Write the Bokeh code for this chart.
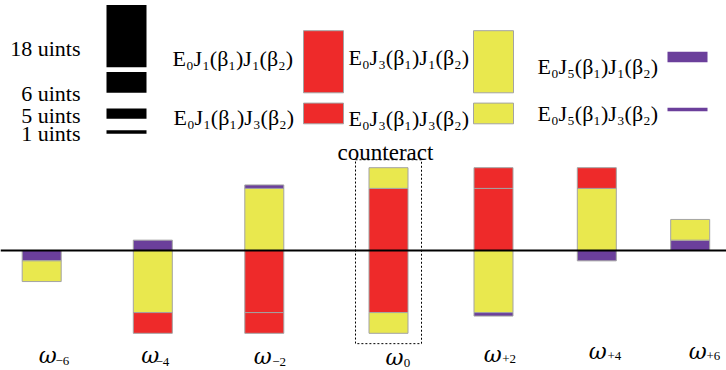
from bokeh.plotting import figure
from bokeh.models import Range1d, Span, ColumnDataSource
from bokeh.core.properties import value
from bokeh.embed import file_html
from bokeh.resources import INLINE

# ---------------- data ----------------
harmonics = ["\u22126", "\u22124", "\u22122", "0", "+2", "+4", "+6"]
components = ["J1J1", "J1J3", "J3J1", "J3J3", "J5J1", "J5J3"]
component_units = [18, 6, 18, 6, 3, 1]
component_labels = [
    "E\u2080J\u2081(\u03b2\u2081)J\u2081(\u03b2\u2082)",
    "E\u2080J\u2081(\u03b2\u2081)J\u2083(\u03b2\u2082)",
    "E\u2080J\u2083(\u03b2\u2081)J\u2081(\u03b2\u2082)",
    "E\u2080J\u2083(\u03b2\u2081)J\u2083(\u03b2\u2082)",
    "E\u2080J\u2085(\u03b2\u2081)J\u2081(\u03b2\u2082)",
    "E\u2080J\u2085(\u03b2\u2081)J\u2083(\u03b2\u2082)",
]
# contributions stacked from the zero line outward, per harmonic
stack_up = [[], ["J5J1"], ["J3J1", "J5J3"], ["J1J1", "J3J3"],
            ["J1J1", "J1J3"], ["J3J1", "J1J3"], ["J5J1", "J3J3"]]
stack_down = [["J5J1", "J3J3"], ["J3J1", "J1J3"], ["J1J1", "J1J3"],
              ["J1J1", "J3J3"], ["J3J1", "J5J3"], ["J5J1"], []]
scale_labels = ["18 uints", "6 uints", "5 uints", "1 uints"]
scale_key_units = [18, 6, 3, 1]
counteract_label = "counteract"
counteract_index = 3

# ---------------- styles / layout ----------------
RED, YELLOW, PURPLE = "#EE2A2A", "#E9E84E", "#6B3F9B"
OUTLINE = "#A3A3A3"
comp_color = {"J1J1": RED, "J1J3": RED, "J3J1": YELLOW, "J3J3": YELLOW,
              "J5J1": PURPLE, "J5J3": PURPLE}
W, H = 726, 370
S = 3.45          # pixels per unit
BASE = 250        # page y of the zero line


def uy(page_y):
    return (BASE - page_y) / S


bar_x = [41.2, 152.3, 263.8, 388.0, 493.0, 596.3, 689.7]
BAR_W = 39

p = figure(width=W, height=H, output_backend="svg", toolbar_location=None,
           x_range=Range1d(0, W), y_range=Range1d(uy(H), uy(0)),
           x_axis_location=None, y_axis_location=None, min_border=0,
           outline_line_color=None, background_fill_color="white")
p.grid.visible = False

# ---------------- stacked bars ----------------
bx, bb, bt, bc = [], [], [], []
for i in range(len(harmonics)):
    acc = 0
    for c in stack_up[i]:
        u = component_units[components.index(c)]
        bx.append(bar_x[i]); bb.append(acc); bt.append(acc + u); bc.append(comp_color[c])
        acc += u
    acc = 0
    for c in stack_down[i]:
        u = component_units[components.index(c)]
        bx.append(bar_x[i]); bb.append(acc - u); bt.append(acc); bc.append(comp_color[c])
        acc -= u
p.vbar(x="x", width=BAR_W, bottom="b", top="t", fill_color="c",
       line_color=OUTLINE, line_width=1,
       source=ColumnDataSource(dict(x=bx, b=bb, t=bt, c=bc)))

p.add_layout(Span(location=0, dimension="width", line_color="black", line_width=2))

# dashed "counteract" box around the omega_0 bar
ci = counteract_index
up_tot = sum(component_units[components.index(c)] for c in stack_up[ci])
dn_tot = sum(component_units[components.index(c)] for c in stack_down[ci])
p.quad(left=[bar_x[ci] - 33], right=[bar_x[ci] + 33], bottom=[-dn_tot - 3.0],
       top=[up_tot + 2.3], fill_color=None, line_color="black", line_width=1,
       line_dash="2 2")
p.text(x=[385], y=[uy(151.7)], text=[counteract_label], text_font=value("Liberation Serif"),
       text_font_size="23px", text_align="center", text_baseline="alphabetic",
       text_color="black")

# ---------------- omega labels ----------------
omega_x = [38.3, 140.7, 253.3, 385.0, 483.3, 588.3, 688.3]
omega_base = [355, 355, 356, 357, 354, 350.7, 350.7]
sub_x = [55, 155, 271.7, 403.3, 501.7, 607, 706]
sub_base = [360, 361, 361.7, 362, 358, 355, 355]
p.text(x=omega_x, y=[uy(v) for v in omega_base], text=["\u03c9"] * len(harmonics),
       text_font=value("DejaVu Serif"), text_font_style="italic", text_font_size="22px",
       text_align="left", text_baseline="alphabetic", text_color="black")
p.text(x=sub_x, y=[uy(v) for v in sub_base], text=harmonics,
       text_font=value("Liberation Serif"), text_font_size="13px",
       text_align="left", text_baseline="alphabetic", text_color="black")

# ---------------- unit scale key ----------------
scale_bottom = [uy(66.7), uy(92.3), uy(118.3), uy(133.3)]
p.quad(left=[106] * 4, right=[146] * 4, bottom=scale_bottom,
       top=[b + u for b, u in zip(scale_bottom, scale_key_units)],
       fill_color="black", line_color=None)
p.text(x=[80] * 4, y=[uy(v) for v in [48, 92.5, 115, 133]], text=scale_labels,
       text_font=value("Liberation Serif"), text_font_size="22px",
       text_align="right", text_baseline="alphabetic", text_color="black")

# ---------------- component legend ----------------
key_left = [303, 303, 473, 473, 667, 667]
key_bottom = [uy(92.3), uy(123.3), uy(92.3), uy(123.3), uy(61.7), uy(110.7)]
p.quad(left=key_left, right=[k + 40 for k in key_left], bottom=key_bottom,
       top=[b + u for b, u in zip(key_bottom, component_units)],
       fill_color=[comp_color[c] for c in components],
       line_color=[OUTLINE, OUTLINE, OUTLINE, OUTLINE, None, None])
lab_x = [172, 173, 348, 348, 537, 537]
lab_base = [58, 117, 57, 118, 65.7, 113]
p.text(x=lab_x, y=[uy(v) for v in lab_base], text=component_labels,
       text_font=value("Liberation Serif"), text_font_size="22px",
       text_align="left", text_baseline="alphabetic", text_color="black")

open("out.html", "w").write(file_html(p, INLINE))
